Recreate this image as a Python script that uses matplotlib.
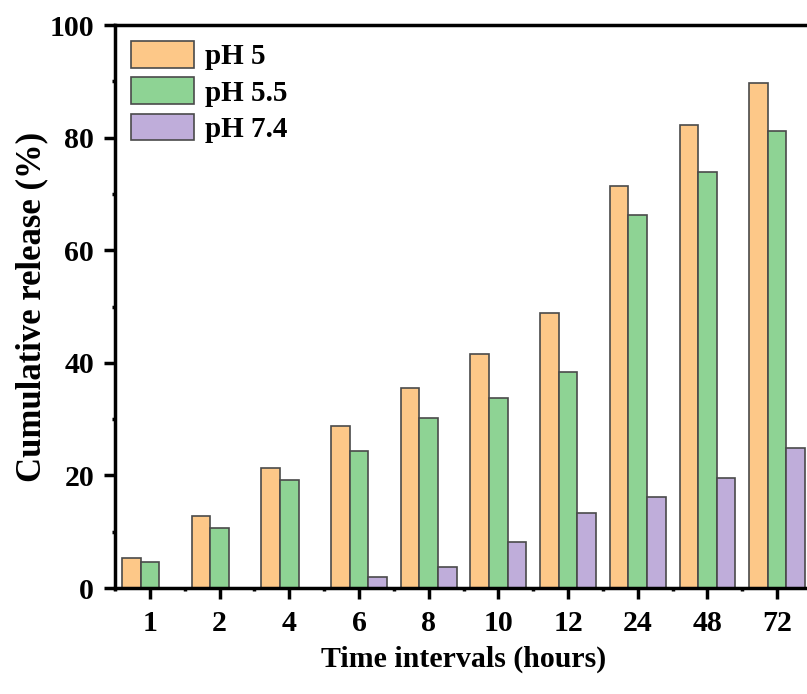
import numpy as np
import matplotlib
matplotlib.use("Agg")
import matplotlib.pyplot as plt
from matplotlib.ticker import MultipleLocator

# time points (hours) and cumulative release (%)
times = ["1", "2", "4", "6", "8", "10", "12", "24", "48", "72"]
ph5 = [5.3, 12.8, 21.3, 28.8, 35.5, 41.6, 48.8, 71.4, 82.2, 89.7]
ph55 = [4.6, 10.6, 19.2, 24.4, 30.2, 33.7, 38.4, 66.3, 73.9, 81.1]
ph74 = [0.0, 0.0, 0.0, 2.0, 3.8, 8.2, 13.4, 16.2, 19.5, 24.8]

labels = ["pH 5", "pH 5.5", "pH 7.4"]
colors = ["#FDC888", "#8ED394", "#BFADDA"]

plt.rcParams["font.family"] = "Liberation Serif"
plt.rcParams["font.weight"] = "bold"


def main():
    fig = plt.figure(figsize=(8.07, 6.94), dpi=100)
    ax = fig.add_axes([0.1425, 0.1527, 0.8637, 0.8112])

    x = np.arange(len(times))
    w = 0.8 / 3
    series = [ph5, ph55, ph74]
    for i, vals in enumerate(series):
        ax.bar(x + (i - 1) * w, vals, width=w, color=colors[i],
               edgecolor="#4a4a4a", linewidth=1.2, label=labels[i])

    ax.set_xlim(-0.5, 9.5)
    ax.set_ylim(0, 100)
    ax.set_xticks(x)
    ax.set_xticklabels(times)
    ax.xaxis.set_minor_locator(MultipleLocator(1, offset=0.5))
    ax.yaxis.set_major_locator(MultipleLocator(20))
    ax.yaxis.set_minor_locator(MultipleLocator(10))

    for s in ax.spines.values():
        s.set_linewidth(2.5)
    ax.tick_params(which="major", direction="out", length=8, width=2.5,
                   labelsize=21.5, pad=7)
    ax.tick_params(which="minor", direction="out", length=2.5, width=2.5)
    ax.tick_params(axis="x", which="major", pad=8)

    ax.set_xlabel("Time intervals (hours)", fontsize=21.5, fontweight="bold",
                  labelpad=6)
    ax.set_ylabel("Cumulative release (%)", fontsize=25, fontweight="bold",
                  labelpad=1)

    ax.legend(loc="upper left", frameon=False,
              handlelength=2.17, handleheight=1.03, labelspacing=0.24,
              handletextpad=0.35, borderaxespad=0.15,
              prop={"weight": "bold", "size": 21})

    fig.savefig("out.png", dpi=100)


if __name__ == "__main__":
    main()
